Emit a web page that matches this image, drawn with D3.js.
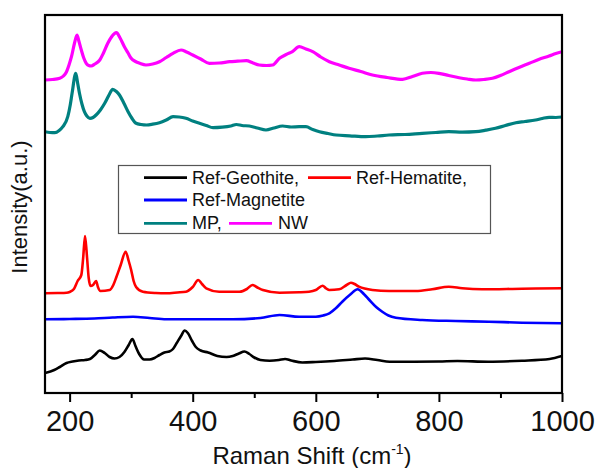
<!DOCTYPE html>
<html>
<head>
<meta charset="utf-8">
<script src="https://cdn.jsdelivr.net/npm/d3@7"></script>
<style>
  html, body { margin: 0; padding: 0; background: #fff; }
  svg { display: block; font-family: Arial, "Liberation Sans", sans-serif; }
</style>
</head>
<body>
<svg id="chart" width="597" height="468"></svg>
<script>
// ---- data (wavenumber cm-1, intensity a.u.) ----
const xTicksMajor = [200, 400, 600, 800, 1000];
const xTicksMinor = [300, 500, 700, 900];

const geothite = [[160,20],[175,23],[184,26],[195,30],[205,31.5],[215,32.5],[225,33],[233,34],[241,38],[249,42.5],[257,40],[265,36],[273,34.5],[281,36],[289,41],[296,48],[302,54],[307,47],[313,39],[321,33.5],[330,33.5],[338,35],[346,38],[354,40.5],[362,41.5],[368,44],[374,50],[381,57],[387,62.5],[392,60],[399,52],[405,46],[413,42.5],[425,40.5],[440,37],[455,36],[465,37],[475,39.5],[484,41.5],[492,39],[500,35.5],[510,33],[525,32.3],[540,33],[550,34],[560,32.5],[578,30.5],[600,31],[630,32],[660,33.5],[680,34.5],[700,33],[720,31.3],[760,31.3],[800,31.5],[830,32],[880,31.3],[935,32.3],[980,34],[1000,37]];

const hematite = [[160,99.7],[180,100],[195,100.3],[200,101],[207,104],[213,112],[219,118],[222,135],[225,157],[228,138],[231,115],[234,107],[238,108],[243,112],[246,106],[250,102],[265,103],[271,108],[276,116],[283,128],[291,141.3],[296,132],[300,123],[304,112],[308,106],[319,101.3],[340,100],[357,99.7],[375,100.5],[389,101.3],[400,106],[409,113],[415,109],[422,104.7],[443,101.3],[476,101.3],[488,104],[497,108],[505,105.5],[514,103],[541,100.3],[573,100.7],[589,101.3],[600,103],[611,107.3],[617,104.5],[622,103],[638,103.7],[650,108],[657,110.3],[663,109],[670,106.3],[692,103],[719,102],[762,102],[789,103.7],[816,106.3],[838,104.7],[870,103.7],[935,104.3],[1000,104.7]];

const magnetite = [[160,73.7],[200,74],[240,74.5],[270,75.5],[303,76.3],[330,75],[357,73.7],[420,73.7],[465,73.7],[510,75],[541,78],[573,76.3],[600,76.3],[612,77.5],[622,79.7],[633,85],[643,91.3],[656,98.5],[668,103.7],[678,99],[687,93],[698,86],[708,81.3],[718,77.5],[730,75.3],[773,73],[827,72],[881,71.3],[935,70.3],[1000,69.7]];

const mp = [[160,261.3],[168,260.5],[176,260.3],[183,262.5],[189,266.3],[197,276.3],[201,288],[204,299.7],[210,319.7],[213,310],[216,299.7],[220,289],[224,281.3],[228,277],[233,274.7],[238,275.5],[243,278],[250,283],[257,289.7],[264,298],[270,303.7],[276,301.5],[281,298],[288,290],[295,281.3],[301,275],[308,269.7],[316,268.5],[325,268],[335,268.8],[346,270.3],[357,273],[368,276.3],[378,276],[389,274.7],[400,272],[411,269.7],[422,267.5],[433,265.3],[448,265.8],[462,267],[471,268.5],[480,267.5],[492,267],[505,265],[519,263],[532,265],[546,267],[560,266],[573,266.3],[584,266.3],[595,263.5],[606,261.3],[620,259.5],[633,258],[655,257.2],[681,256.3],[700,257],[719,258],[745,258.5],[773,259.7],[795,260.5],[816,261.3],[838,260.8],[860,261.3],[876,262.8],[892,264.7],[908,267.5],[925,270.3],[940,271.5],[957,273],[968,274.5],[979,275.7],[990,275.5],[1000,276]];

const nw = [[160,313],[172,313.5],[184,314.7],[190,317],[195,321.3],[199,328],[203,336.3],[208,350],[212,358],[215,352],[219,343],[223,335],[227,329.7],[231,327.5],[235,327],[241,329],[249,333],[255,340],[262,349.7],[268,356],[276,360.3],[282,355],[289,346.3],[295,340],[300,334.7],[307,331.5],[314,329.7],[324,328],[335,329],[346,331.3],[357,335.5],[368,339.7],[381,343],[390,341],[400,338],[413,334],[427,329.7],[443,330],[460,331.3],[473,331.8],[487,332.3],[498,330],[508,328],[520,327.5],[530,328],[541,334.7],[552,338.5],[562,341.3],[573,346.3],[584,344],[595,341.3],[608,336],[622,331.3],[638,328],[654,324.7],[673,321.5],[692,318],[716,315.5],[741,313.7],[757,316.5],[773,319.7],[787,320.5],[800,319.7],[816,317.5],[833,315.3],[846,314],[860,313],[873,313.5],[887,314.7],[900,317.5],[914,321.3],[930,325.5],[947,329.7],[962,333.5],[979,337],[990,339.5],[1000,341.3]];

const seriesNames = ["Ref-Geothite,", "Ref-Hematite,", "Ref-Magnetite", "MP,", "NW"];
const seriesColors = ["#000000", "#ff0000", "#0000ff", "#008080", "#ff00ff"];
const seriesWidths = [2.6, 2.6, 2.6, 3.2, 3.2];
const seriesData = [geothite, hematite, magnetite, mp, nw];

// ---- layout ----
const svg = d3.select("#chart");
const L = 45, R = 562, T = 15, B = 393;

const x = d3.scaleLinear().domain([160, 1000]).range([L, R]);
const y = d3.scaleLinear().domain([0, 378]).range([B, T]);

svg.append("defs").append("clipPath").attr("id", "clip")
  .append("rect").attr("x", L).attr("y", T).attr("width", R - L).attr("height", B - T);

const line = d3.line()
  .x(d => x(d[0])).y(d => y(d[1]))
  .curve(d3.curveMonotoneX);

const plot = svg.append("g").attr("clip-path", "url(#clip)");
seriesData.forEach((data, i) => {
  plot.append("path")
    .datum(data)
    .attr("d", line)
    .attr("fill", "none")
    .attr("stroke", seriesColors[i])
    .attr("stroke-width", seriesWidths[i])
    .attr("stroke-linejoin", "round")
    .attr("stroke-linecap", "round");
});

// ---- x axis with major/minor ticks ----
const xAxisMajor = d3.axisBottom(x).tickValues(xTicksMajor).tickSize(9).tickPadding(4).tickFormat(d3.format("d"));
const gx = svg.append("g").attr("transform", `translate(0,${B})`).call(xAxisMajor);
gx.select(".domain").remove();
gx.selectAll(".tick line").attr("stroke", "#000").attr("stroke-width", 2);
gx.selectAll(".tick text")
  .attr("font-size", 29).attr("font-family", "Arial, 'Liberation Sans', sans-serif")
  .attr("fill", "#111").attr("dy", null).attr("y", 38);

const xAxisMinor = d3.axisBottom(x).tickValues(xTicksMinor).tickSize(5).tickFormat("");
const gxm = svg.append("g").attr("transform", `translate(0,${B})`).call(xAxisMinor);
gxm.select(".domain").remove();
gxm.selectAll(".tick line").attr("stroke", "#000").attr("stroke-width", 2);

// ---- frame ----
svg.append("rect")
  .attr("x", L).attr("y", T).attr("width", R - L).attr("height", B - T)
  .attr("fill", "none").attr("stroke", "#000").attr("stroke-width", 2.2);

// ---- axis titles ----
const xt = svg.append("text")
  .attr("x", 312).attr("y", 464)
  .attr("text-anchor", "middle")
  .attr("font-size", 24).attr("fill", "#111");
xt.append("tspan").text("Raman Shift (cm");
xt.append("tspan").attr("font-size", 14).attr("dy", -10).text("-1");
xt.append("tspan").attr("dy", 10).text(")");

svg.append("text")
  .attr("transform", "translate(27,207) rotate(-90)")
  .attr("text-anchor", "middle")
  .attr("font-size", 22).attr("fill", "#111")
  .text("Intensity(a.u.)");

// ---- legend ----
const lg = svg.append("g");
lg.append("rect")
  .attr("x", 118.5).attr("y", 165.5).attr("width", 372).attr("height", 68)
  .attr("fill", "#fff").attr("stroke", "#555").attr("stroke-width", 1.2);

const legendItems = [
  { i: 0, x1: 144, x2: 187, tx: 192, ly: 177.7, ty: 183.5 },
  { i: 1, x1: 308, x2: 351, tx: 356, ly: 177.7, ty: 183.5 },
  { i: 2, x1: 144, x2: 187, tx: 192, ly: 200, ty: 206 },
  { i: 3, x1: 144, x2: 187, tx: 192, ly: 223.3, ty: 229.3 },
  { i: 4, x1: 229, x2: 272, tx: 278, ly: 223.3, ty: 229.3 }
];
legendItems.forEach(it => {
  lg.append("line")
    .attr("x1", it.x1).attr("x2", it.x2).attr("y1", it.ly).attr("y2", it.ly)
    .attr("stroke", seriesColors[it.i]).attr("stroke-width", 2.8);
  lg.append("text")
    .attr("x", it.tx).attr("y", it.ty)
    .attr("font-size", 18).attr("fill", "#111")
    .text(seriesNames[it.i]);
});
</script>
</body>
</html>
